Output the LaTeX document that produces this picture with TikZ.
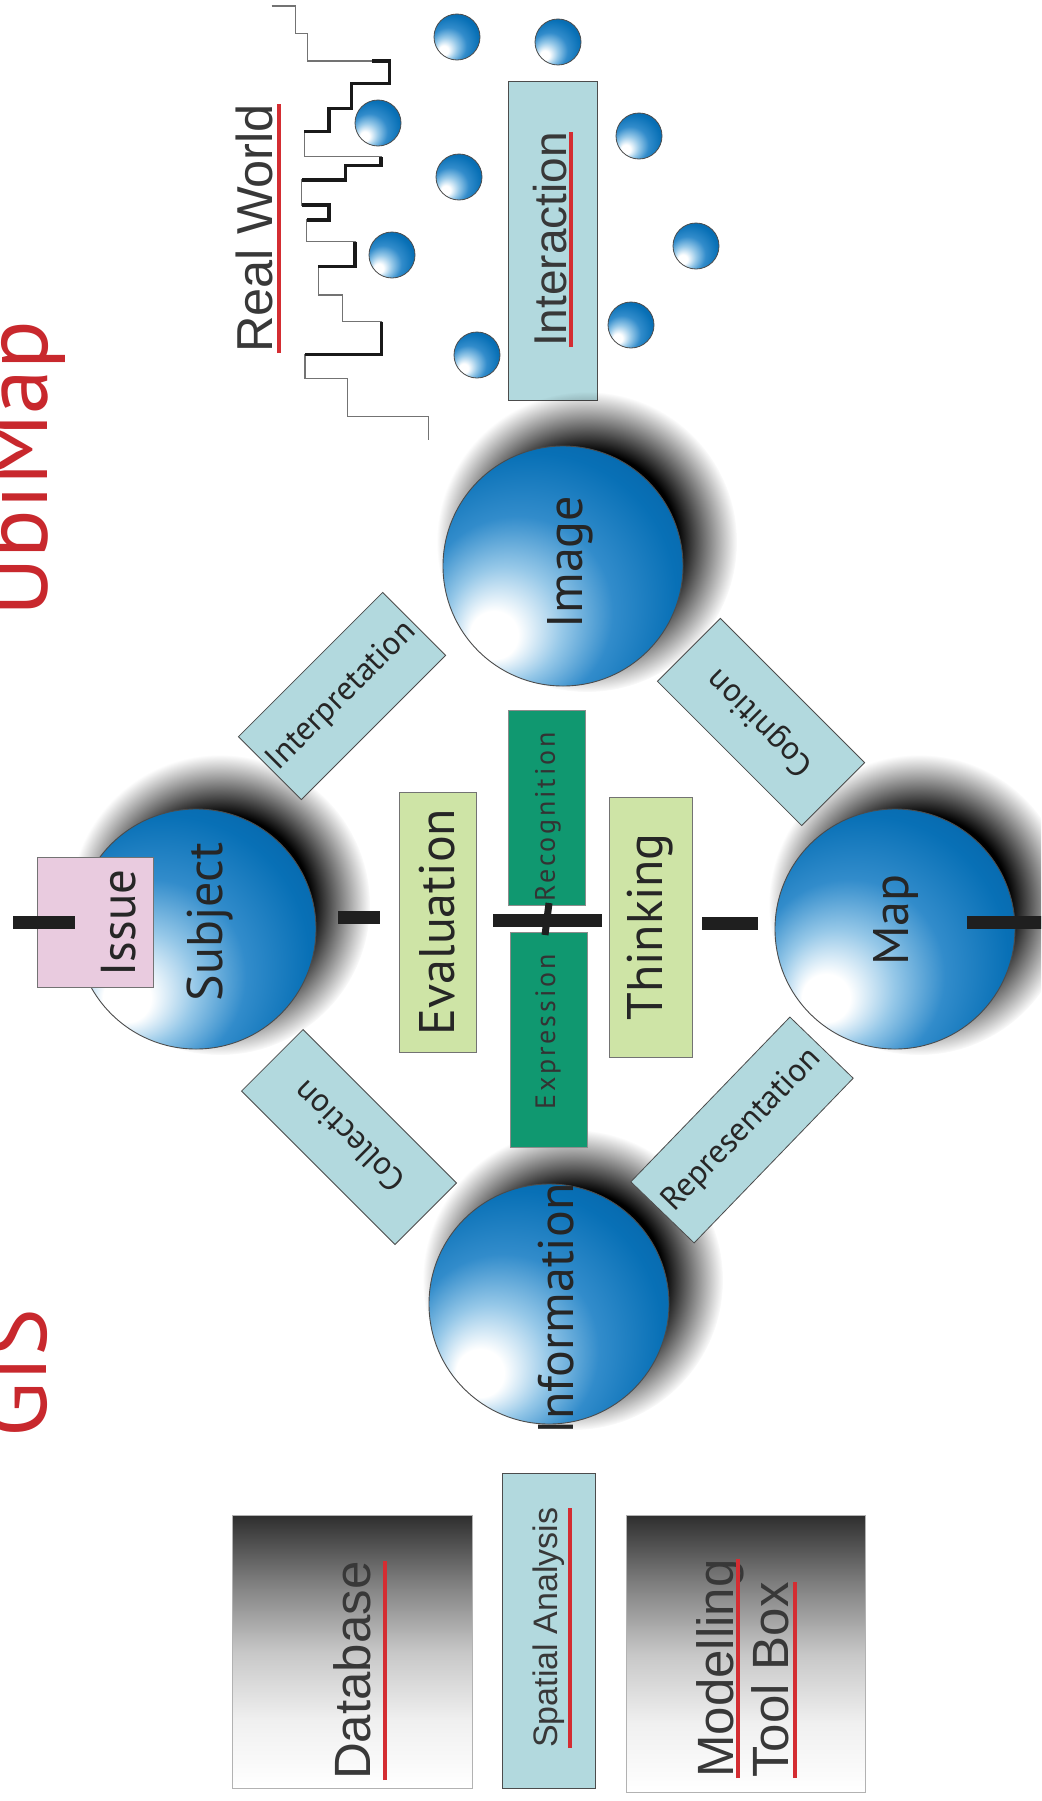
\documentclass[tikz,border=0pt]{standalone}
\usepackage{fontspec}
\setmainfont{PT Sans}
\newfontfamily\arialfam{Liberation Sans}
\usetikzlibrary{calc,fadings}

% palette
\definecolor{sphL}{RGB}{150,200,232}
\definecolor{sphM}{RGB}{50,140,203}
\definecolor{sphD}{RGB}{8,112,182}
\definecolor{sphE}{RGB}{5,92,158}
\definecolor{boxblue}{RGB}{178,217,222}
\definecolor{boxgreen}{RGB}{206,228,166}
\definecolor{darkgreen}{RGB}{16,152,112}
\definecolor{issuepink}{RGB}{233,203,223}
\definecolor{titlered}{RGB}{200,40,45}
\definecolor{ulred}{RGB}{212,45,50}

% glossy sphere: broad highlight at the lower left, deep blue towards the upper right
\pgfdeclareradialshading{sphereshade}{\pgfpoint{-16bp}{-16bp}}{%
  color(0bp)=(white); color(5bp)=(white); color(12bp)=(sphL);
  color(20bp)=(sphM); color(30bp)=(sphD); color(42bp)=(sphE); color(50bp)=(sphE)}
% soft drop shadow behind the spheres
\pgfdeclareradialshading{shadowfadeshade}{\pgfpointorigin}{%
  color(0bp)=(white); color(15bp)=(white); color(19bp)=(black!40);
  color(25bp)=(black); color(50bp)=(black)}
\pgfdeclarefading{sphshadow}{\pgfuseshading{shadowfadeshade}}
% dark-to-white panels
\pgfdeclareverticalshading{greyfade}{100bp}{%
  color(0bp)=(white); color(25bp)=(white); color(37.5bp)=(black!6);
  color(50bp)=(black!22); color(62.5bp)=(black!50); color(75bp)=(black!82);
  color(100bp)=(black!82)}

\tikzset{
  sphere/.style={circle, minimum size=240pt, inner sep=0pt, draw=black!70,
    line width=0.9pt, shade, shading=sphereshade},
  ball/.style={circle, minimum size=46pt, inner sep=0pt, draw=black!70,
    line width=0.8pt, shade, shading=sphereshade},
  spheretext/.style={rotate=90, anchor=base, inner sep=0pt, text=black!85,
    font=\fontsize{50}{60}\selectfont},
  lbbox/.style={draw=black!70, line width=0.8pt, fill=boxblue, inner sep=0pt,
    text=black!85, font=\fontsize{33}{40}\selectfont},
  gbox/.style={draw=black!55, line width=0.8pt, fill=boxgreen, inner sep=0pt,
    text=black!85, font=\fontsize{50}{60}\selectfont, rotate=90},
  dgbox/.style={draw=black!45, line width=0.6pt, fill=darkgreen, inner sep=0pt, rotate=90},
  dgtext/.style={rotate=90, inner sep=0pt, text=black!80,
    font=\addfontfeature{LetterSpace=10}\fontsize{28}{34}\selectfont},
  greybox/.style={draw=black!30, line width=0.6pt, shade, shading=greyfade},
  ultext/.style={rotate=90, anchor=base west, inner sep=0pt, text=black!78},
  ul/.style={ulred, line width=4.5pt},
  bar/.style={black!88, line width=13pt},
  stairthin/.style={black!55, line width=1.4pt},
  stairthick/.style={black!90, line width=3.2pt, line cap=square},
  title/.style={rotate=90, anchor=base west, inner sep=0pt, text=titlered,
    font=\fontsize{90}{100}\selectfont},
}

\begin{document}
\begin{tikzpicture}[x=1pt,y=-1pt]
\useasboundingbox (0,0) rectangle (1041,1801);
\clip (0,0) rectangle (1041,1801);
\fill[white] (0,0) rectangle (1041,1801);

% ---- real world profile ----
\draw[stairthin] (271.7,6) -- (295.7,6) -- (295.7,33.3) -- (307.7,33.3) -- (307.7,61)
  -- (389.3,61) -- (389.3,83.3) -- (351.7,83.3) -- (351.7,108.3) -- (329,108.3)
  -- (329,131.7) -- (304.3,131.7) -- (304.3,156.7) -- (381,156.7) -- (381,165.7)
  -- (345.7,165.7) -- (345.7,180) -- (301.7,180) -- (301.7,205) -- (329,205)
  -- (329,220) -- (306.7,220) -- (306.7,241.7) -- (355,241.7) -- (355,266.7)
  -- (318.3,266.7) -- (318.3,295) -- (342.3,295) -- (342.3,321.7) -- (381.7,321.7)
  -- (381.7,354.3) -- (305,354.3) -- (305,378.3) -- (347.7,378.3) -- (347.7,416.7)
  -- (428.3,416.7) -- (428.3,440);
\draw[stairthick] (372,61) -- (389.3,61) -- (389.3,83.3) -- (351.7,83.3) -- (351.7,108.3)
  -- (329,108.3) -- (329,131.7) -- (304.3,131.7);
\draw[stairthick] (381,157) -- (381,165.7) -- (345.7,165.7) -- (345.7,180) -- (301.7,180);
\draw[stairthick] (301.7,205) -- (329,205) -- (329,220) -- (306.7,220);
\draw[stairthick] (355,241.7) -- (355,266.7) -- (318.3,266.7);
\draw[stairthick] (381.7,321.7) -- (381.7,354.3) -- (305,354.3);

% ---- small balls ----
\node[ball] (b1) at (457,37) {};
\node[ball] (b2) at (378,123) {};
\node[ball] (b3) at (459,177) {};
\node[ball] (b4) at (392,255) {};
\node[ball] (b5) at (477,355) {};
\node[ball] (b6) at (558,42) {};
\node[ball] (b7) at (639,136) {};
\node[ball] (b8) at (696,246) {};
\node[ball] (b9) at (631,325) {};

% ---- Real World and Interaction ----
\node[ultext, font=\arialfam\fontsize{50.5}{60}\selectfont] (realworld) at (272,353) {Real World};
\draw[ul] ($(realworld.base west)+(7,0)$) -- ($(realworld.base east)+(7,0)$);
\node[lbbox, minimum width=89pt, minimum height=319pt] (interbox) at (552.5,240.5) {};
\node[ultext, font=\arialfam\fontsize{46}{55}\selectfont] (intertxt) at (566,347) {Interaction};
\draw[ul] ($(intertxt.base west)+(5,0)$) -- ($(intertxt.base east)+(5,0)$);

% ---- sphere shadows ----
\foreach \cx/\cy in {563/566, 196/929, 895/929, 549/1304}
  \fill[black, path fading=sphshadow] (\cx+24,\cy-24) circle (150);

% ---- process boxes on the diamond ----
\node[lbbox, minimum width=204pt, minimum height=89pt, rotate=45] (interp) at (342,696) {Interpretation};
\node[lbbox, minimum width=204pt, minimum height=89pt, rotate=135] (cogn) at (761,722) {Cognition};
\node[lbbox, minimum width=217pt, minimum height=87pt, rotate=135] (coll) at (349,1137) {Collection};
\node[lbbox, minimum width=229pt, minimum height=88pt, rotate=46] (repr) at (742,1130) {Representation};

% ---- spheres ----
\node[sphere] (image) at (563,566) {};
\node[sphere] (subject) at (196,929) {};
\node[sphere] (map) at (895,929) {};
\node[sphere] (info) at (549,1304) {};
\node[spheretext] (imagetxt) at (582,562) {Image};
\node[spheretext] (subjecttxt) at (222,922) {Subject};
\node[spheretext] (maptxt) at (908,920) {Map};
\node[spheretext] (infotxt) at (573,1309) {Information};

% ---- issue ----
\node[draw=black!55, line width=0.8pt, fill=issuepink, minimum width=116pt, minimum height=130pt] (issue) at (95,922) {};
\node[spheretext, font=\fontsize{49}{58}\selectfont] (issuetxt) at (135,923) {Issue};

% ---- central column ----
\node[gbox, minimum width=260pt, minimum height=77pt] (eval) at (437.5,922) {Evaluation};
\node[gbox, minimum width=260pt, minimum height=83pt] (think) at (650.5,927) {Thinking};
\node[dgbox, minimum width=195pt, minimum height=77pt] (recog) at (546.5,807.5) {};
\node[dgtext] (recogtxt) at (548,817) {Recognition};
\node[dgbox, minimum width=215pt, minimum height=77pt] (expr) at (548.5,1039.5) {};
\node[dgtext] (exprtxt) at (548,1032) {Expression};

% ---- axis bars ----
\draw[bar] (13,922) -- (75,922);
\draw[bar] (338,917) -- (380,917);
\draw[bar] (493,920) -- (602,920);
\draw[black!88, line width=7pt] (549,903) -- (545,935);
\draw[bar] (702,923) -- (758,923);
\draw[bar] (967,922) -- (1045,922);

% ---- GIS tools ----
\node[greybox, minimum width=240pt, minimum height=273pt] (dbbox) at (352,1651.5) {};
\node[ultext, font=\arialfam\fontsize{51}{60}\selectfont] (dbtxt) at (370,1780) {Database};
\draw[ul] ($(dbtxt.base west)+(15,0)$) -- ($(dbtxt.base east)+(15,0)$);
\node[lbbox, minimum width=93pt, minimum height=315pt] (spbox) at (548.5,1630.5) {};
\node[ultext, font=\arialfam\fontsize{34}{40}\selectfont] (sptxt) at (557,1748) {Spatial Analysis};
\draw[ul] ($(sptxt.base west)+(13,0)$) -- ($(sptxt.base east)+(13,0)$);
\node[greybox, minimum width=239pt, minimum height=277pt] (modbox) at (745.5,1653.5) {};
\node[ultext, font=\arialfam\fontsize{51}{60}\selectfont] (modtxt) at (733,1778) {Modelling};
\draw[ul] ($(modtxt.base west)+(5,0)$) -- ($(modtxt.base east)+(5,0)$);
\node[ultext, font=\arialfam\fontsize{51}{60}\selectfont] (tooltxt) at (788,1778) {Tool Box};
\draw[ul] ($(tooltxt.base west)+(7,0)$) -- ($(tooltxt.base east)+(7,0)$);

% ---- titles ----
\node[title] (ubimap) at (47,617) {UbiMap};
\node[title] (gis) at (46,1438) {GIS};
\end{tikzpicture}
\end{document}
